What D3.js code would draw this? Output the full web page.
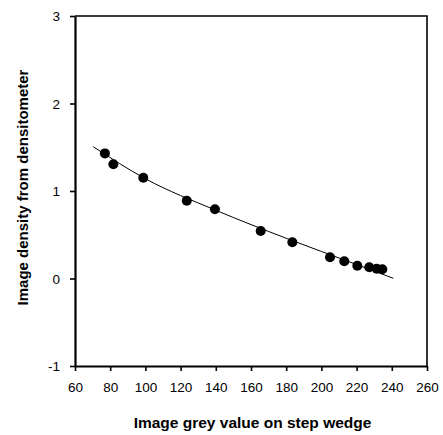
<!DOCTYPE html>
<html>
<head>
<meta charset="utf-8">
<script src="https://cdn.jsdelivr.net/npm/d3@7"></script>
<style>
  html, body { margin: 0; padding: 0; background: #fff; }
  svg { display: block; font-family: "Liberation Sans", Arial, sans-serif; }
</style>
</head>
<body>
<div id="chart"></div>
<script>
// measured points (grey value vs density)
const greyValues = [77.0, 81.8, 98.8, 123.5, 139.5, 165.5, 183.5, 204.9, 213.0, 220.4, 227.2, 231.4, 234.6];
const densities = [1.43, 1.305, 1.152, 0.889, 0.791, 0.543, 0.414, 0.242, 0.197, 0.146, 0.128, 0.112, 0.105];

// fitted curve
const fitX = [70.4, 100, 140, 180, 220, 240.9];
const fitY = [1.506, 1.14, 0.78, 0.46, 0.16, 0.002];

const xTicks = [60, 80, 100, 120, 140, 160, 180, 200, 220, 240, 260];
const yTicks = [-1, 0, 1, 2, 3];

const width = 443, height = 435;
const margin = {top: 16, right: 16, bottom: 69, left: 75};
const tickFont = '"Liberation Sans Narrow", "Liberation Sans", Arial, sans-serif';

const svg = d3.select('#chart').append('svg')
    .attr('width', width)
    .attr('height', height);

const x = d3.scaleLinear().domain([60, 260]).range([margin.left, width - margin.right]);
const y = d3.scaleLinear().domain([-1, 3]).range([height - margin.bottom, margin.top]);

// frame: top and right
svg.append('path')
    .attr('d', `M${x(60)},${y(3)}H${x(260)}V${y(-1)}`)
    .attr('fill', 'none')
    .attr('stroke', '#000')
    .attr('stroke-width', 1.6);

const xAxis = svg.append('g')
    .attr('transform', `translate(0,${y(-1)})`)
    .call(d3.axisBottom(x).tickValues(xTicks).tickSize(5).tickPadding(11).tickSizeOuter(0));

const yAxis = svg.append('g')
    .attr('transform', `translate(${x(60)},0)`)
    .call(d3.axisLeft(y).tickValues(yTicks).tickSize(5).tickPadding(10).tickSizeOuter(0)
        .tickFormat(d => String(d)));

[xAxis, yAxis].forEach(a => {
    a.select('.domain').attr('stroke-width', 2.2);
    a.selectAll('.tick line').attr('stroke-width', 1.6);
    a.selectAll('.tick text')
        .attr('fill', '#000')
        .style('font-size', '13.5px')
        .style('font-family', tickFont);
});
yAxis.selectAll('.tick text').attr('dy', '0.34em');

// fitted line
const line = d3.line()
    .x(d => x(d[0]))
    .y(d => y(d[1]))
    .curve(d3.curveMonotoneX);

svg.append('path')
    .datum(fitX.map((v, i) => [v, fitY[i]]))
    .attr('d', line)
    .attr('fill', 'none')
    .attr('stroke', '#000')
    .attr('stroke-width', 1);

// points
svg.append('g')
    .selectAll('circle')
    .data(greyValues.map((v, i) => [v, densities[i]]))
    .join('circle')
    .attr('cx', d => x(d[0]))
    .attr('cy', d => y(d[1]))
    .attr('r', 5)
    .attr('fill', '#000');

// axis titles
svg.append('text')
    .attr('x', 252.5)
    .attr('y', 428)
    .attr('text-anchor', 'middle')
    .style('font-size', '15.5px')
    .style('font-weight', 'bold')
    .text('Image grey value on step wedge');

svg.append('text')
    .attr('transform', `translate(28,187.5) rotate(-90)`)
    .attr('text-anchor', 'middle')
    .style('font-size', '15px')
    .style('font-weight', 'bold')
    .text('Image density from densitometer');
</script>
</body>
</html>
